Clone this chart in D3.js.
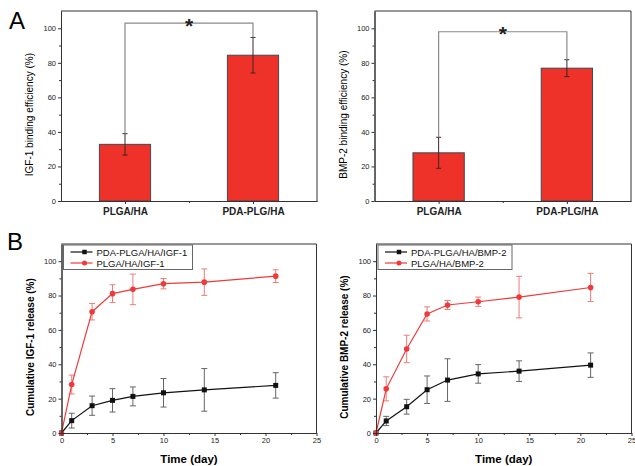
<!DOCTYPE html>
<html lang="en">
<head>
<meta charset="utf-8">
<title>Binding efficiency and release</title>
<script src="https://cdn.jsdelivr.net/npm/d3@7"></script>
<style>
    body { margin: 0; background: #fff; }
    svg { font-family: Arial, "Liberation Sans", sans-serif; }
    .axis path, .axis line { stroke: #333; stroke-width: 1; }
    .axis text { fill: #222; font-size: 7.5px; }
</style>
</head>
<body>
<div id="graph"></div>
<script>
    // panel A: binding efficiency (%)
    var categories = ["PLGA/HA", "PDA-PLG/HA"];
    var igfBinding = [32.8, 84.4];
    var igfBindingErr = [6.2, 10.3];
    var bmpBinding = [27.9, 76.9];
    var bmpBindingErr = [9.0, 4.9];
    var bracketLevels = [103, 98];

    // panel B: cumulative release (%)
    var days = [0, 1, 3, 5, 7, 10, 14, 21];
    var igfPda = [0, 7.2, 15.9, 19.0, 21.3, 23.4, 25.1, 27.7];
    var igfPdaErr = [0, 4.3, 5.6, 6.8, 5.5, 8.3, 12.4, 7.4];
    var igfPlga = [0, 28.2, 70.6, 81.1, 83.6, 86.9, 87.8, 91.3];
    var igfPlgaErr = [0, 5.5, 4.8, 5.2, 8.9, 3.0, 7.7, 3.7];
    var bmpPda = [0, 7.0, 15.3, 25.2, 30.8, 34.4, 36.0, 39.5];
    var bmpPdaErr = [0, 2.7, 4.3, 8.0, 12.4, 5.4, 6.0, 7.1];
    var bmpPlga = [0, 25.7, 48.9, 69.3, 74.5, 76.4, 79.1, 84.7];
    var bmpPlgaErr = [0, 7.0, 8.0, 4.1, 2.6, 2.7, 12.1, 8.2];

    var yTicks = [0, 20, 40, 60, 80, 100];
    var yMinorTicks = [10, 30, 50, 70, 90];
    var dayTicks = [0, 5, 10, 15, 20, 25];
    var dayMinorTicks = [2.5, 7.5, 12.5, 17.5, 22.5];

    var red = "#ee3129";
    var w = 635;
    var h = 466;

    var svg = d3.select("#graph")
        .append("svg")
        .attr("width", w)
        .attr("height", h);

    function drawFrame(g, xScale, yScale, box, xMajor, xMinor, xFormat, xPad) {
        g.append("g")
            .attr("class", "axis")
            .attr("transform", "translate(" + box.left + ",0)")
            .call(d3.axisLeft(yScale).tickValues(yTicks).tickSize(3).tickSizeOuter(0).tickPadding(2));
        g.append("g")
            .attr("class", "axis")
            .attr("transform", "translate(" + box.left + ",0)")
            .call(d3.axisLeft(yScale).tickValues(yMinorTicks).tickSize(2).tickSizeOuter(0).tickFormat(""));

        var xAxis = g.append("g")
            .attr("class", "axis")
            .attr("transform", "translate(0," + box.bottom + ")")
            .call(d3.axisBottom(xScale).tickValues(xMajor).tickSize(3).tickSizeOuter(0).tickPadding(xPad).tickFormat(xFormat));
        g.append("g")
            .attr("class", "axis")
            .attr("transform", "translate(0," + box.bottom + ")")
            .call(d3.axisBottom(xScale).tickValues(xMinor).tickSize(2).tickSizeOuter(0).tickFormat(""));

        // top and right edges of the box
        g.append("path")
            .attr("d", "M" + box.left + "," + box.top + "H" + box.right + "V" + box.bottom)
            .attr("fill", "none")
            .attr("stroke", "#333");
        return xAxis;
    }

    function drawBinding(box, values, errs, bracketY, yLabel) {
        var g = svg.append("g");
        var xScale = d3.scaleLinear().domain([0.5, 2.5]).range([box.left, box.right]);
        var yScale = d3.scaleLinear().domain([0, 110]).range([box.bottom, box.top]);
        var barW = xScale(1.4) - xScale(1);

        g.selectAll("rect")
            .data(values)
            .enter()
            .append("rect")
            .attr("x", function (d, i) { return xScale(i + 1) - barW / 2; })
            .attr("y", function (d) { return yScale(d); })
            .attr("width", barW)
            .attr("height", function (d) { return yScale(0) - yScale(d); })
            .attr("fill", red)
            .attr("stroke", "#3d4a52")
            .attr("stroke-width", 1);

        // error bars
        values.forEach(function (d, i) {
            var cx = xScale(i + 1);
            g.append("path")
                .attr("d", "M" + cx + "," + yScale(d + errs[i]) + "V" + yScale(d - errs[i]) +
                    "M" + (cx - 2.5) + "," + yScale(d + errs[i]) + "h5" +
                    "M" + (cx - 2.5) + "," + yScale(d - errs[i]) + "h5")
                .attr("stroke", "#3a2626")
                .attr("stroke-width", 1)
                .attr("fill", "none");
        });

        // significance bracket
        var x1 = xScale(1), x2 = xScale(2);
        g.append("path")
            .attr("d", "M" + x1 + "," + yScale(values[0] + errs[0]) + "V" + yScale(bracketY) +
                "H" + x2 + "V" + yScale(values[1] + errs[1]))
            .attr("fill", "none")
            .attr("stroke", "#8a8a8a")
            .attr("stroke-width", 1.2);
        g.append("text")
            .attr("x", (x1 + x2) / 2)
            .attr("y", yScale(bracketY) + 9.5)
            .attr("text-anchor", "middle")
            .style("font-size", "21px")
            .style("font-weight", "bold")
            .attr("fill", "#222")
            .text("*");

        var xAxis = drawFrame(g, xScale, yScale, box, [1, 2], [1.5], function (d) {
            return categories[d - 1];
        }, 4);
        xAxis.selectAll("text")
            .style("font-size", "10px")
            .style("font-weight", "bold");

        g.append("text")
            .attr("text-anchor", "middle")
            .attr("transform", "translate(" + (box.left - 28) + "," + ((yScale(0) + yScale(100)) / 2) + ")rotate(-90)")
            .style("font-size", "10px")
            .text(yLabel);
    }

    function drawRelease(box, series, yLabel, legendW) {
        var g = svg.append("g");
        var xScale = d3.scaleLinear().domain([0, 25]).range([box.left, box.right]);
        var yScale = d3.scaleLinear().domain([0, 110]).range([box.bottom, box.top]);

        var line = d3.line()
            .x(function (d) { return xScale(d.day); })
            .y(function (d) { return yScale(d.v); });

        series.forEach(function (s) {
            var pts = days.map(function (d, i) {
                return {day: d, v: s.values[i], e: s.errs[i]};
            });
            // error bars
            g.append("g")
                .selectAll("path")
                .data(pts.filter(function (p) { return p.e > 0; }))
                .enter()
                .append("path")
                .attr("d", function (p) {
                    var cx = xScale(p.day), t = yScale(p.v + p.e), b = yScale(p.v - p.e);
                    return "M" + cx + "," + t + "V" + b + "M" + (cx - 3) + "," + t + "h6M" + (cx - 3) + "," + b + "h6";
                })
                .attr("stroke", s.errColor)
                .attr("stroke-width", 1)
                .attr("fill", "none");

            g.append("path")
                .datum(pts)
                .attr("d", line)
                .attr("fill", "none")
                .attr("stroke", s.color)
                .attr("stroke-width", 1.2);

            if (s.shape === "square") {
                g.append("g")
                    .selectAll("path")
                    .data(pts)
                    .enter()
                    .append("path")
                    .attr("transform", function (p) { return "translate(" + xScale(p.day) + "," + yScale(p.v) + ")"; })
                    .attr("d", d3.symbol(d3.symbolSquare, 25))
                    .attr("fill", s.color);
            } else {
                g.append("g")
                    .selectAll("circle")
                    .data(pts)
                    .enter()
                    .append("circle")
                    .attr("cx", function (p) { return xScale(p.day); })
                    .attr("cy", function (p) { return yScale(p.v); })
                    .attr("r", 2.8)
                    .attr("fill", s.color);
            }
        });

        drawFrame(g, xScale, yScale, box, dayTicks, dayMinorTicks, d3.format("d"), 2);

        // legend
        var lx = box.left + 2, ly = box.top + 1;
        g.append("rect")
            .attr("x", lx)
            .attr("y", ly)
            .attr("width", legendW)
            .attr("height", 24.5)
            .attr("fill", "#fff")
            .attr("stroke", "#666")
            .attr("stroke-width", 1);
        series.forEach(function (s, i) {
            var yy = ly + 7 + i * 11;
            g.append("line")
                .attr("x1", lx + 7).attr("x2", lx + 29)
                .attr("y1", yy).attr("y2", yy)
                .attr("stroke", s.color)
                .attr("stroke-width", 1.2);
            if (s.shape === "square") {
                g.append("path")
                    .attr("transform", "translate(" + (lx + 21) + "," + yy + ")")
                    .attr("d", d3.symbol(d3.symbolSquare, 20))
                    .attr("fill", s.color);
            } else {
                g.append("circle")
                    .attr("cx", lx + 21).attr("cy", yy).attr("r", 2.5)
                    .attr("fill", s.color);
            }
            g.append("text")
                .attr("x", lx + 33)
                .attr("y", yy + 3.5)
                .style("font-size", "9.5px")
                .attr("fill", "#111")
                .text(s.name);
        });

        g.append("text")
            .attr("text-anchor", "middle")
            .attr("transform", "translate(" + (box.left - 28) + "," + ((yScale(0) + yScale(100)) / 2) + ")rotate(-90)")
            .style("font-size", "10px")
            .style("font-weight", "bold")
            .text(yLabel);

        g.append("text")
            .attr("x", (box.left + box.right) / 2)
            .attr("y", h - 3)
            .attr("text-anchor", "middle")
            .style("font-size", "11.5px")
            .style("font-weight", "bold")
            .text("Time (day)");
    }

    drawBinding({left: 61, right: 317, top: 11, bottom: 201}, igfBinding, igfBindingErr,
        bracketLevels[0], "IGF-1 binding efficiency (%)");
    drawBinding({left: 374.5, right: 631, top: 11, bottom: 201}, bmpBinding, bmpBindingErr,
        bracketLevels[1], "BMP-2 binding efficiency (%)");

    drawRelease({left: 61.5, right: 316.5, top: 244, bottom: 433}, [
        {name: "PDA-PLGA/HA/IGF-1", values: igfPda, errs: igfPdaErr, color: "#111", errColor: "#666", shape: "square"},
        {name: "PLGA/HA/IGF-1", values: igfPlga, errs: igfPlgaErr, color: "#f03a3a", errColor: "#f27a7a", shape: "circle"}
    ], "Cumulative IGF-1 release (%)", 129);
    drawRelease({left: 376, right: 631.5, top: 244, bottom: 433}, [
        {name: "PDA-PLGA/HA/BMP-2", values: bmpPda, errs: bmpPdaErr, color: "#111", errColor: "#666", shape: "square"},
        {name: "PLGA/HA/BMP-2", values: bmpPlga, errs: bmpPlgaErr, color: "#f03a3a", errColor: "#f27a7a", shape: "circle"}
    ], "Cumulative BMP-2 release (%)", 134);

    // panel letters
    svg.append("text").attr("x", 9).attr("y", 29).style("font-size", "24px").text("A");
    svg.append("text").attr("x", 7).attr("y", 250).style("font-size", "24px").text("B");
</script>
</body>
</html>
